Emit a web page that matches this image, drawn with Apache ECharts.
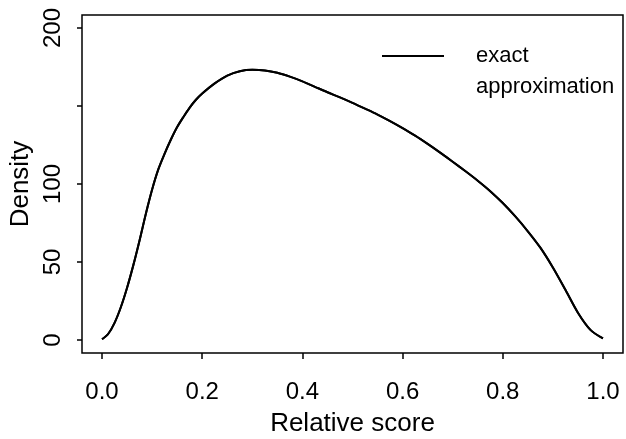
<!DOCTYPE html>
<html>
<head>
<meta charset="utf-8">
<script src="https://cdn.jsdelivr.net/npm/echarts@6/dist/echarts.min.js"></script>
<style>html,body{margin:0;padding:0;background:#fff}#c{width:626px;height:439px}</style>
</head>
<body>
<div id="c"></div>
<script>
// Relative score grid and density values
const scores = [0, 0.0125, 0.025, 0.0375, 0.05, 0.0625, 0.075, 0.0875, 0.1, 0.1125, 0.125, 0.1375, 0.15, 0.1625, 0.175, 0.1875, 0.2, 0.225, 0.25, 0.275, 0.3, 0.325, 0.35, 0.375, 0.4, 0.425, 0.45, 0.475, 0.5, 0.525, 0.55, 0.575, 0.6, 0.625, 0.65, 0.675, 0.7, 0.725, 0.75, 0.775, 0.8, 0.825, 0.85, 0.875, 0.9, 0.925, 0.95, 0.975, 1.0];
const exactDensity = [0.5, 4, 11, 21, 33.5, 48, 64, 81, 96.5, 109.5, 119.5, 128.5, 136.5, 143, 149, 154, 158, 164.5, 169.5, 172.3, 173.2, 172.8, 171.3, 168.8, 165.8, 162.3, 158.8, 155.5, 152, 148.3, 144.5, 140.3, 135.8, 131, 125.7, 120.1, 114.3, 108.3, 102.1, 95.4, 87.8, 79.2, 69.7, 59.2, 46.5, 32.2, 17.5, 6.5, 1];
const approxDensity = [0.5, 4, 11, 21, 33.5, 48, 64, 81, 96.5, 109.5, 119.5, 128.5, 136.5, 143, 149, 154, 158, 164.5, 169.5, 172.3, 173.2, 172.8, 171.3, 168.8, 165.8, 162.3, 158.8, 155.5, 152, 148.3, 144.5, 140.3, 135.8, 131, 125.7, 120.1, 114.3, 108.3, 102.1, 95.4, 87.8, 79.2, 69.7, 59.2, 46.5, 32.2, 17.5, 6.5, 1];
const xTicks = [0, 0.2, 0.4, 0.6, 0.8, 1.0];
const yTicks = [0, 50, 100, 150, 200];
const yLabels = [0, 50, 100, 200];

const font = 'Liberation Sans, Arial, sans-serif';
const chart = echarts.init(document.getElementById('c'), null, {renderer: 'canvas'});
chart.setOption({
  animation: false,
  backgroundColor: '#fff',
  grid: {left: 82, right: 3, top: 15, bottom: 86, show: true, borderColor: '#000', borderWidth: 1.5,
    backgroundColor: 'transparent', containLabel: false, outerBoundsMode: 'none'},
  legend: {
    left: 377, top: 40, orient: 'vertical', itemGap: 9,
    itemWidth: 62, itemHeight: 2,
    textStyle: {fontFamily: font, fontSize: 22, color: '#000', padding: [0, 0, 0, 27]},
    data: [
      {name: 'exact', icon: 'rect', itemStyle: {color: '#000'}},
      {name: 'approximation', icon: 'rect', itemStyle: {color: 'rgba(0,0,0,0)', opacity: 0}}
    ]
  },
  xAxis: {
    type: 'value', min: -0.04, max: 1.04,
    name: 'Relative score', nameLocation: 'middle', nameGap: 58, nameMoveOverlap: false,
    nameTextStyle: {fontFamily: font, fontSize: 26, color: '#000'},
    axisLine: {show: false, onZero: false},
    splitLine: {show: false},
    axisTick: {show: true, length: 6, lineStyle: {color: '#000', width: 1.5}, customValues: xTicks},
    axisLabel: {fontFamily: font, fontSize: 24, color: '#000', margin: 27, customValues: xTicks,
      formatter: v => v.toFixed(1)}
  },
  yAxis: {
    type: 'value', min: -8.33, max: 208.33,
    name: 'Density', nameLocation: 'middle', nameGap: 48, nameRotate: 90, nameMoveOverlap: false,
    nameTextStyle: {fontFamily: font, fontSize: 26, color: '#000'},
    axisLine: {show: false, onZero: false},
    splitLine: {show: false},
    axisTick: {show: true, length: 5, lineStyle: {color: '#000', width: 1.5}, customValues: yTicks},
    axisLabel: {fontFamily: font, fontSize: 24, color: '#000', rotate: 90, margin: 17, customValues: yLabels,
      formatter: v => String(v)}
  },
  series: [
    {name: 'exact', type: 'line', data: scores.map((s, i) => [s, exactDensity[i]]), smooth: 0.3, showSymbol: false,
      lineStyle: {color: '#000', width: 2}, itemStyle: {color: '#000'}, z: 3},
    {name: 'approximation', type: 'line', data: scores.map((s, i) => [s, approxDensity[i]]), smooth: 0.3, showSymbol: false,
      lineStyle: {color: '#000', width: 2}, itemStyle: {color: '#000'}, z: 2}
  ]
});
</script>
</body>
</html>
